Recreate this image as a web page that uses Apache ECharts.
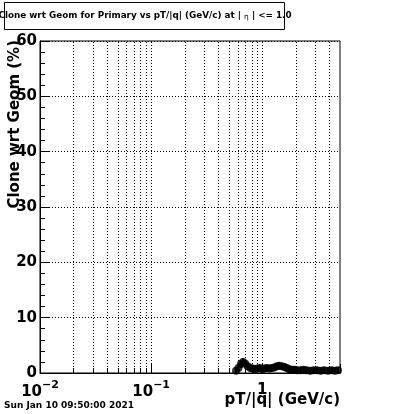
<!DOCTYPE html>
<html><head><meta charset="utf-8">
<script src="https://cdn.jsdelivr.net/npm/echarts@6/dist/echarts.min.js"></script>
<style>html,body{margin:0;padding:0;background:#fff}#c{width:400px;height:414px}</style>
</head><body><div id="c"></div>
<script>
// pT/|q| bin centres (GeV/c)
const pt = [0.58,0.61,0.64,0.67,0.70,0.74,0.78,0.82,0.86,0.90,0.95,1.00,1.05,1.10,1.16,1.22,1.28,1.35,1.42,1.50,1.58,1.66,1.75,1.85,1.95,2.05,2.20,2.35,2.50,2.70,2.90,3.10,3.35,3.60,3.90,4.20,4.50,4.80];
// clone rate (%)
const clone = [0.4,0.9,1.6,2.0,1.7,1.2,0.9,0.8,0.7,0.8,0.9,0.7,0.8,0.9,0.8,0.9,1.0,1.2,1.3,1.2,1.1,0.9,0.7,0.6,0.6,0.5,0.5,0.6,0.5,0.4,0.5,0.5,0.4,0.5,0.4,0.5,0.4,0.5];
const cloneErr = [0.6,0.6,0.7,0.7,0.7,0.6,0.6,0.6,0.6,0.6,0.6,0.6,0.6,0.6,0.6,0.6,0.6,0.6,0.6,0.6,0.6,0.6,0.6,0.6,0.6,0.6,0.6,0.6,0.6,0.6,0.6,0.6,0.6,0.6,0.6,0.6,0.6,0.6];
const xGridValues = [0.02,0.03,0.04,0.05,0.06,0.07,0.08,0.09,0.1,0.2,0.3,0.4,0.5,0.6,0.7,0.8,0.9,1,2,3,4];
const xMajorTicks = [0.01,0.1,1];
const yMin = 0, yMax = 60, yStep = 10;
const xMin = 0.01, xMax = 5;
const titleMain = 'Clone wrt Geom for Primary vs pT/|q| (GeV/c) at | ';
const titleEta = 'η';
const titleEnd = ' | <= 1.0';
const yTitle = 'Clone wrt Geom (%)';
const xTitle = 'pT/|q| (GeV/c)';
const dateText = 'Sun Jan 10 09:50:00 2021';

const chart = echarts.init(document.getElementById('c'), null, {renderer:'canvas'});
const F = 'DejaVu Sans';
const supMap = {'0.01':'−2','0.1':'−1'};

const option = {
  animation:false,
  backgroundColor:'#fff',
  grid:{left:40, right:60, top:41, bottom:41, show:true, borderColor:'#000', borderWidth:1, backgroundColor:'transparent'},
  xAxis:{
    type:'log', min:xMin, max:xMax, logBase:10,
    axisLine:{show:true, onZero:false, lineStyle:{color:'#000', width:1}},
    axisTick:{show:true, inside:true, length:9, lineStyle:{color:'#000'}},
    splitLine:{show:false},
    axisLabel:{
      margin:7, color:'#000',
      formatter:function(v){
        const k = String(+v.toPrecision(3));
        if (supMap[k]) return '{b|10}{s|'+supMap[k]+'}';
        if (k==='1') return '{o|1}';
        return '';
      },
      rich:{
        b:{fontFamily:F, fontWeight:'bold', fontSize:15, color:'#000', verticalAlign:'bottom', lineHeight:20},
        s:{fontFamily:F, fontWeight:'bold', fontSize:11, color:'#000', verticalAlign:'top', lineHeight:20},
        o:{fontFamily:F, fontWeight:'bold', fontSize:15, color:'#000', lineHeight:20}
      }
    }
  },
  yAxis:{
    type:'value', min:yMin, max:yMax, interval:yStep,
    axisLine:{show:true, lineStyle:{color:'#000', width:1}},
    axisTick:{show:true, inside:true, length:9, lineStyle:{color:'#000'}},
    minorTick:{show:true, splitNumber:5, length:5, lineStyle:{color:'#000'}},
    splitLine:{show:true, lineStyle:{color:'#000', type:[1,2], width:1}},
    axisLabel:{margin:3, color:'#000', fontFamily:F, fontWeight:'bold', fontSize:15}
  },
  graphic:[
    {type:'rect', shape:{x:4.5, y:2.5, width:280, height:27}, style:{fill:'#fff', stroke:'#000', lineWidth:1}, z:10},
    {type:'text', x:145, y:16, z:11, style:{
      text:'{m|'+titleMain+'}{e|'+titleEta+'}{m|'+titleEnd+'}',
      align:'center', verticalAlign:'middle',
      rich:{
        m:{fontFamily:F, fontWeight:'bold', fontSize:8.8, fill:'#000'},
        e:{fontFamily:F, fontWeight:'normal', fontSize:7.5, fill:'#000', padding:[3,0,0,0]}
      }}},
    {type:'text', x:15, y:40, rotation:Math.PI/2, z:11, style:{text:yTitle, fontFamily:F, fontWeight:'bold', fontSize:15, fill:'#000', align:'right', verticalAlign:'middle'}},
    {type:'text', x:340, y:400, z:11, style:{text:xTitle, fontFamily:F, fontWeight:'bold', fontSize:15, fill:'#000', align:'right', verticalAlign:'middle'}},
    {type:'text', x:4, y:406, z:11, style:{text:dateText, fontFamily:F, fontWeight:'bold', fontSize:9, fill:'#000', align:'left', verticalAlign:'middle'}}
  ],
  series:[
    {
      type:'custom', silent:true, z:1,
      data:xGridValues.map(v=>[v]),
      renderItem:function(params, api){
        const x = api.value(0);
        const p0 = api.coord([x, yMin]);
        const p1 = api.coord([x, yMax]);
        const isMajor = xMajorTicks.some(m=>Math.abs(m-x)<1e-9);
        return {type:'group', children:[
          {type:'line', shape:{x1:Math.round(p0[0])+0.5, y1:p0[1], x2:Math.round(p1[0])+0.5, y2:p1[1]}, style:{stroke:'#000', lineWidth:1, lineDash:[1,2]}},
          {type:'line', shape:{x1:Math.round(p0[0])+0.5, y1:p0[1], x2:Math.round(p0[0])+0.5, y2:p0[1]-(isMajor?9:5)}, style:{stroke:'#000', lineWidth:1}}
        ]};
      }
    },
    {
      type:'custom', silent:true, z:3,
      data:pt.map((x,i)=>[x, clone[i]-cloneErr[i], clone[i]+cloneErr[i]]),
      renderItem:function(params, api){
        const a = api.coord([api.value(0), api.value(1)]);
        const b = api.coord([api.value(0), api.value(2)]);
        return {type:'line', shape:{x1:a[0], y1:a[1], x2:b[0], y2:b[1]}, style:{stroke:'#000', lineWidth:2}};
      }
    },
    {
      type:'scatter', z:4, symbol:'circle', symbolSize:8,
      itemStyle:{color:'#000'},
      data:pt.map((x,i)=>[x, clone[i]])
    }
  ]
};
chart.setOption(option);
</script>
</body></html>
